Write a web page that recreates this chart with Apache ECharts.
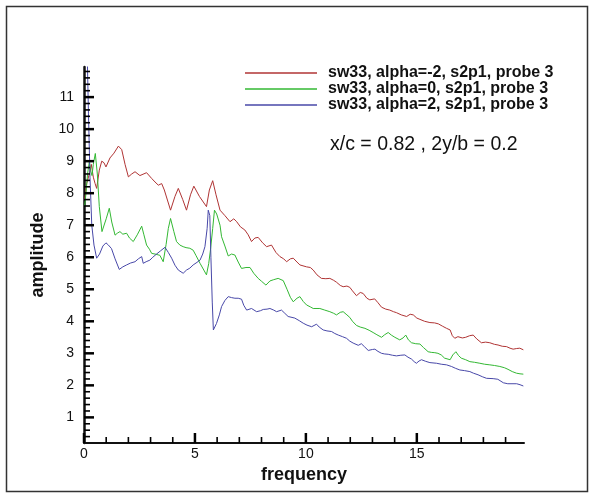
<!DOCTYPE html>
<html>
<head>
<meta charset="utf-8">
<script src="https://cdn.jsdelivr.net/npm/echarts@6/dist/echarts.min.js"></script>
<style>
  html, body { margin: 0; padding: 0; background: #fff; }
  #main { width: 593px; height: 497px; }
</style>
</head>
<body>
<div id="main"></div>
<script>
// [frequency, amplitude]
const redData = [
  [0.03,7.8],[0.12,8.3],[0.24,8.6],[0.33,8.9],[0.42,8.5],[0.5,8.3],[0.57,8.15],[0.69,8.72],[0.8,9.0],[0.9,8.95],
  [0.99,8.82],[1.17,9.1],[1.35,9.25],[1.55,9.47],[1.7,9.36],[1.85,8.9],[2.0,8.51],[2.15,8.6],[2.3,8.67],[2.52,8.55],
  [2.82,8.64],[3.05,8.46],[3.2,8.35],[3.35,8.25],[3.5,8.3],[3.62,8.1],[3.9,7.47],[4.1,7.9],[4.25,8.15],[4.45,7.8],
  [4.62,7.47],[4.8,7.95],[4.95,8.22],[5.2,7.9],[5.52,7.58],[5.65,8.1],[5.8,8.39],[5.95,7.95],[6.13,7.47],[6.35,7.3],
  [6.58,7.11],[6.75,7.2],[6.88,7.11],[7.05,6.95],[7.25,6.85],[7.4,6.7],[7.55,6.49],[7.7,6.6],[7.85,6.62],[8.05,6.45],
  [8.23,6.33],[8.45,6.38],[8.65,6.15],[8.83,6.02],[9.0,5.95],[9.13,5.86],[9.3,5.95],[9.43,5.97],[9.6,5.85],[9.73,5.76],
  [10.03,5.7],[10.2,5.68],[10.33,5.6],[10.5,5.45],[10.7,5.34],[10.9,5.33],[11.08,5.34],[11.25,5.28],[11.38,5.22],[11.55,5.12],
  [11.68,5.08],[11.85,5.1],[11.98,5.06],[12.1,4.95],[12.28,4.8],[12.45,4.9],[12.58,4.87],[12.75,4.72],[12.88,4.67],[13.1,4.7],
  [13.25,4.58],[13.41,4.44],[13.6,4.38],[13.78,4.35],[13.95,4.3],[14.08,4.27],[14.3,4.2],[14.54,4.15],[14.7,4.22],[14.84,4.2],
  [15.0,4.1],[15.14,4.06],[15.35,4.0],[15.59,3.96],[15.8,3.95],[15.97,3.92],[16.15,3.85],[16.34,3.78],[16.5,3.73],[16.6,3.55],
  [16.71,3.47],[16.85,3.52],[16.94,3.54],[17.05,3.48],[17.2,3.5],[17.38,3.55],[17.54,3.57],[17.7,3.45],[17.91,3.33],[18.1,3.35],
  [18.29,3.33],[18.5,3.28],[18.66,3.26],[18.85,3.22],[19.04,3.21],[19.2,3.16],[19.34,3.13],[19.5,3.15],[19.64,3.16],[19.8,3.11]
]

const greenData = [
  [0.03,7.6],[0.09,8.0],[0.16,8.6],[0.24,8.98],[0.3,8.7],[0.36,8.55],[0.42,8.9],[0.51,9.24],[0.6,8.6],[0.69,7.58],
  [0.81,6.8],[0.9,6.85],[1.0,7.2],[1.14,7.53],[1.25,7.1],[1.4,6.69],[1.5,6.75],[1.62,6.8],[1.75,6.72],[1.92,6.75],
  [2.05,6.6],[2.22,6.49],[2.4,6.7],[2.6,6.97],[2.7,6.7],[2.82,6.38],[2.95,6.25],[3.05,6.12],[3.2,6.1],[3.42,6.06],
  [3.57,5.86],[3.7,6.4],[3.8,6.9],[3.9,7.21],[4.05,6.8],[4.17,6.49],[4.32,6.38],[4.47,6.33],[4.6,6.3],[4.77,6.28],
  [4.92,6.22],[5.05,6.05],[5.23,5.81],[5.4,5.6],[5.52,5.45],[5.62,5.8],[5.7,6.23],[5.8,6.9],[5.88,7.47],[5.98,7.35],
  [6.13,7.0],[6.2,6.64],[6.35,6.35],[6.5,6.04],[6.65,6.1],[6.8,6.07],[6.95,5.85],[7.1,5.65],[7.3,5.68],[7.48,5.68],
  [7.65,5.5],[7.85,5.34],[8.0,5.25],[8.2,5.13],[8.38,5.26],[8.55,5.3],[8.75,5.34],[8.98,5.27],[9.15,5.0],[9.3,4.75],
  [9.43,4.61],[9.6,4.72],[9.73,4.77],[9.88,4.62],[10.03,4.51],[10.2,4.45],[10.33,4.4],[10.63,4.4],[10.85,4.35],[11.08,4.3],
  [11.25,4.25],[11.38,4.2],[11.55,4.28],[11.68,4.3],[11.85,4.2],[11.98,4.12],[12.1,4.0],[12.28,3.87],[12.45,3.82],[12.66,3.78],
  [12.85,3.72],[13.03,3.65],[13.2,3.58],[13.41,3.5],[13.55,3.58],[13.71,3.65],[13.85,3.57],[14.01,3.5],[14.23,3.42],[14.38,3.48],
  [14.5,3.57],[14.62,3.42],[14.76,3.33],[14.95,3.3],[15.14,3.29],[15.3,3.18],[15.51,3.05],[15.65,3.03],[15.81,3.02],[15.95,3.0],
  [16.1,2.95],[16.25,2.85],[16.34,2.8],[16.5,2.8],[16.62,2.95],[16.76,3.05],[16.88,2.93],[17.0,2.85],[17.2,2.8],[17.39,2.74],
  [17.6,2.72],[17.84,2.69],[18.05,2.66],[18.29,2.64],[18.5,2.62],[18.74,2.59],[18.95,2.55],[19.11,2.5],[19.3,2.43],[19.49,2.38],
  [19.65,2.36],[19.8,2.35]
]

const blueData = [
  [0.02,13],[0.14,12.5],[0.2,10.5],[0.27,8.5],[0.35,7.0],[0.45,6.38],[0.57,5.97],[0.7,6.1],[0.85,6.35],[0.99,6.45],
  [1.1,6.38],[1.24,6.27],[1.4,5.95],[1.59,5.62],[1.75,5.7],[1.92,5.76],[2.1,5.82],[2.3,5.86],[2.45,5.95],[2.6,6.02],
  [2.67,5.81],[2.8,5.86],[2.97,5.91],[3.1,6.0],[3.27,6.1],[3.45,6.2],[3.65,6.31],[3.8,6.15],[3.95,5.97],[4.1,5.75],
  [4.25,5.6],[4.47,5.5],[4.62,5.6],[4.77,5.66],[4.92,5.76],[5.05,5.82],[5.23,5.91],[5.35,6.1],[5.45,6.33],[5.55,6.9],
  [5.6,7.47],[5.67,7.3],[5.72,6.0],[5.78,4.6],[5.83,3.73],[5.97,3.93],[6.1,4.2],[6.2,4.46],[6.35,4.65],[6.5,4.77],
  [6.65,4.74],[6.8,4.72],[6.95,4.72],[7.1,4.69],[7.2,4.5],[7.33,4.35],[7.55,4.4],[7.78,4.3],[7.95,4.33],[8.08,4.37],
  [8.25,4.38],[8.38,4.4],[8.55,4.35],[8.68,4.3],[8.9,4.35],[9.05,4.25],[9.2,4.15],[9.5,4.1],[9.7,4.02],[9.88,3.94],
  [10.05,3.88],[10.26,3.83],[10.48,3.91],[10.6,3.82],[10.78,3.73],[10.95,3.7],[11.16,3.68],[11.3,3.62],[11.46,3.57],[11.65,3.52],
  [11.83,3.47],[11.98,3.38],[12.13,3.32],[12.36,3.25],[12.5,3.3],[12.65,3.2],[12.81,3.09],[13.0,3.12],[13.11,3.13],[13.25,3.06],
  [13.41,3.0],[13.55,2.98],[13.71,2.97],[13.9,2.94],[14.08,2.92],[14.28,2.94],[14.46,2.95],[14.6,2.88],[14.76,2.82],[14.88,2.74],
  [14.98,2.69],[15.1,2.76],[15.21,2.8],[15.4,2.75],[15.59,2.71],[15.89,2.69],[16.1,2.66],[16.34,2.64],[16.56,2.59],[16.75,2.53],
  [16.94,2.48],[17.15,2.46],[17.39,2.43],[17.55,2.38],[17.76,2.33],[17.95,2.27],[18.14,2.22],[18.44,2.21],[18.65,2.19],[18.9,2.08],
  [19.1,2.05],[19.5,2.05],[19.65,2.02],[19.8,1.98]
]

const seriesNames = [
  'sw33, alpha=-2, s2p1, probe 3',
  'sw33, alpha=0, s2p1, probe 3',
  'sw33, alpha=2, s2p1, probe 3'
]
const seriesColors = ['#b03434', '#33b833', '#4848a8']

const xMajor = [0, 5, 10, 15]
const xMinor = [1, 2, 3, 4, 6, 7, 8, 9, 11, 12, 13, 14, 16, 17, 18, 19]
const yMajor = [1, 2, 3, 4, 5, 6, 7, 8, 9, 10, 11]
const yMinor = []
for (let v = 2; v <= 59; v++) if (v % 5) yMinor.push(v / 5)

const X_MIN = 0, X_MAX = 19.83
const Y_MIN = 0.2, Y_MAX = 11.94

const chart = echarts.init(document.getElementById('main'), null, { renderer: 'canvas' })

const option = {
  animation: false,
  backgroundColor: '#fff',
  textStyle: { fontFamily: 'Liberation Sans, Arial, sans-serif' },
  grid: { left: 84, right: 69, top: 67, bottom: 54 },
  legend: {
    orient: 'vertical',
    left: 240,
    top: 60,
    itemWidth: 72,
    itemHeight: 1.5,
    itemGap: 0,
    icon: 'rect',
    data: seriesNames,
    textStyle: {
      fontFamily: 'Liberation Sans, Arial, sans-serif',
      fontWeight: 'bold',
      fontSize: 16,
      lineHeight: 14,
      color: '#111',
      padding: [0, 0, 0, 6]
    }
  },
  xAxis: {
    type: 'value',
    min: X_MIN,
    max: X_MAX,
    name: 'frequency',
    nameLocation: 'middle',
    nameGap: 14,
    nameTextStyle: { fontWeight: 'bold', fontSize: 18, color: '#111', verticalAlign: 'top' },
    axisLine: { show: true, onZero: false, lineStyle: { color: '#111', width: 2 } },
    axisTick: { show: false },
    axisLabel: { fontSize: 14, color: '#111', margin: 4, customValues: xMajor },
    splitLine: { show: false }
  },
  yAxis: {
    type: 'value',
    min: Y_MIN,
    max: Y_MAX,
    position: 'left',
    name: 'amplitude',
    nameLocation: 'middle',
    nameGap: 30,
    nameTextStyle: { fontWeight: 'bold', fontSize: 18, color: '#111' },
    axisLine: { show: true, onZero: false, lineStyle: { color: '#111', width: 2.5 } },
    axisTick: { show: false },
    axisLabel: { fontSize: 14, color: '#111', margin: 10, customValues: yMajor },
    splitLine: { show: false }
  },
  series: [redData, greenData, blueData].map(function (d, i) {
    return {
      name: seriesNames[i],
      type: 'line',
      data: d,
      color: seriesColors[i],
      showSymbol: false,
      symbol: 'none',
      clip: true,
      lineStyle: { width: 1, color: seriesColors[i] }
    }
  })
}

chart.setOption(option)

// ticks placed through the chart's own scales, pointing into the plot
function tickLine(x, y, len, onX) {
  const p = chart.convertToPixel({ xAxisIndex: 0, yAxisIndex: 0 }, [x, y])
  const major = len > 7
  return {
    type: 'line',
    silent: true,
    z: 10,
    shape: onX
      ? { x1: p[0], y1: p[1], x2: p[0], y2: p[1] - len }
      : { x1: p[0], y1: p[1], x2: p[0] + len, y2: p[1] },
    style: { stroke: '#000', lineWidth: major ? 2.5 : 1.6 }
  }
}

const ticks = []
xMajor.forEach(v => ticks.push(tickLine(v, Y_MIN, 10, true)))
xMinor.forEach(v => ticks.push(tickLine(v, Y_MIN, 6, true)))
yMajor.forEach(v => ticks.push(tickLine(X_MIN, v, 10, false)))
yMinor.forEach(v => ticks.push(tickLine(X_MIN, v, 6, false)))

chart.setOption({
  graphic: [
    {
      type: 'rect',
      shape: { x: 6.5, y: 6.5, width: 581, height: 485 },
      style: { fill: 'none', stroke: '#333', lineWidth: 1.5 },
      silent: true
    },
    {
      type: 'text',
      left: 330,
      top: 135,
      style: {
        text: 'x/c = 0.82 , 2y/b = 0.2',
        font: '19.5px "Liberation Sans", Arial, sans-serif',
        fill: '#111'
      }
    }
  ].concat(ticks)
})
</script>
</body>
</html>
